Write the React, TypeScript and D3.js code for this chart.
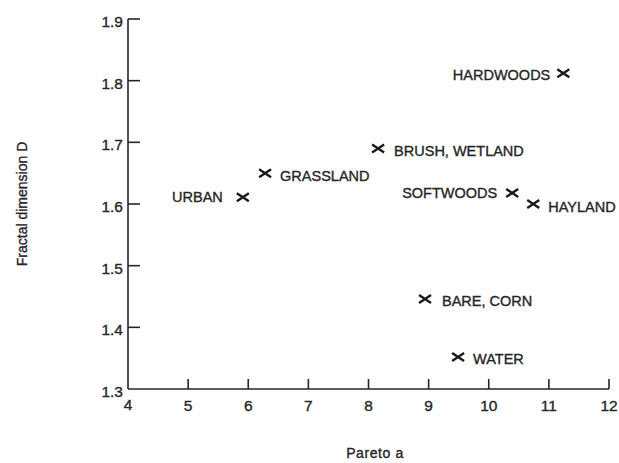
import React from "react";
import * as d3 from "d3";

const categories = ["HARDWOODS", "BRUSH, WETLAND", "GRASSLAND", "URBAN", "SOFTWOODS", "HAYLAND", "BARE, CORN", "WATER"];
const paretoA = [11.24, 8.16, 6.28, 5.91, 10.39, 10.74, 8.94, 9.49];
const fractalD = [1.812, 1.690, 1.650, 1.611, 1.618, 1.600, 1.446, 1.352];
const xTicks = [4, 5, 6, 7, 8, 9, 10, 11, 12];
const yTicks = [1.3, 1.4, 1.5, 1.6, 1.7, 1.8, 1.9];

// label placement (side of marker, horizontal gap, vertical shift)
const labelSide: Record<string, [string, number, number]> = {
  "HARDWOODS": ["left", 13, 1.5],
  "BRUSH, WETLAND": ["right", 16, 2],
  "GRASSLAND": ["right", 15, 3],
  "URBAN": ["left", 20, 0],
  "SOFTWOODS": ["left", 15, 0],
  "HAYLAND": ["right", 15, 3],
  "BARE, CORN": ["right", 17, 2],
  "WATER": ["right", 15, 1.5],
};

const W = 619, H = 463;
const font = "'Liberation Sans', Arial, sans-serif";
const ink = "#262626";

export default function App() {
  const x = d3.scaleLinear().domain([4, 12]).range([128, 609]);
  const y = d3.scaleLinear().domain([1.3, 1.9]).range([389, 19]);
  const labelSize = 14.5;
  const cap = labelSize * 0.716;
  const textStroke = { stroke: ink, strokeWidth: 0.35 };

  return (
    <svg width={W} height={H} style={{ position: "absolute", left: 0, top: 0, background: "#fff" }} fontFamily={font}>
      {/* axes */}
      <line x1={x(4)} x2={x(12)} y1={y(1.3)} y2={y(1.3)} stroke={ink} strokeWidth={1.6} />
      <line x1={x(4)} x2={x(4)} y1={y(1.3)} y2={y(1.9)} stroke={ink} strokeWidth={1.6} />
      {yTicks.map((t) => (
        <g key={"y" + t}>
          {t > 1.3 && <line x1={x(4)} x2={x(4) + 12} y1={y(t)} y2={y(t)} stroke={ink} strokeWidth={1.6} />}
          <text x={x(4) - 5} y={y(t) + 8} textAnchor="end" fontSize={15.5} fill={ink} {...textStroke}>
            {d3.format(".1f")(t)}
          </text>
        </g>
      ))}
      {xTicks.map((t) => (
        <g key={"x" + t}>
          {t > 4 && <line x1={x(t)} x2={x(t)} y1={y(1.3)} y2={y(1.3) - 10} stroke={ink} strokeWidth={1.6} />}
          <text x={x(t)} y={y(1.3) + (t === 4 ? 21 : 22)} textAnchor="middle" fontSize={15.5} fill={ink} {...textStroke}>
            {t}
          </text>
        </g>
      ))}
      {/* axis titles */}
      <text x={375} y={458} textAnchor="middle" fontSize={14} letterSpacing={0.6} fill={ink} {...textStroke}>
        Pareto a
      </text>
      <text
        transform={`translate(27, ${(y(1.3) + y(1.9)) / 2}) rotate(-90)`}
        textAnchor="middle"
        fontSize={14}
        fill={ink}
        {...textStroke}
      >
        Fractal dimension D
      </text>
      {/* points */}
      {categories.map((c, i) => {
        const px = x(paretoA[i]);
        const py = y(fractalD[i]);
        const [side, gap, dy] = labelSide[c];
        return (
          <g key={c}>
            <path
              d={`M${px - 6},${py - 4}L${px + 6},${py + 4}M${px - 6},${py + 4}L${px + 6},${py - 4}`}
              stroke="#1a1a1a"
              strokeWidth={2.4}
              fill="none"
            />
            <text
              x={side === "left" ? px - gap : px + gap}
              y={py + dy + cap / 2}
              textAnchor={side === "left" ? "end" : "start"}
              fontSize={labelSize}
              fill={ink}
              {...textStroke}
            >
              {c}
            </text>
          </g>
        );
      })}
    </svg>
  );
}
